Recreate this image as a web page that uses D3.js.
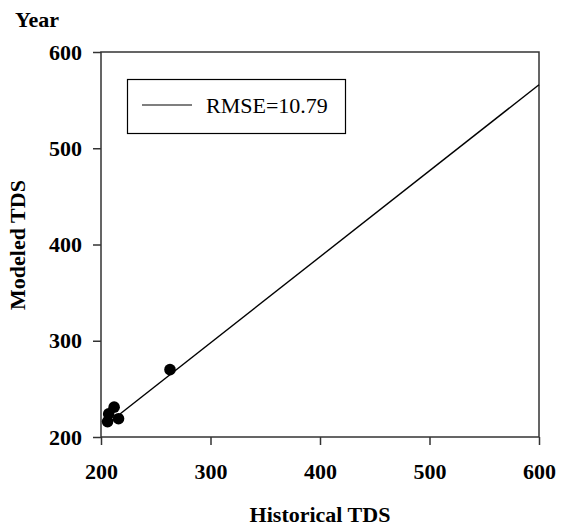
<!DOCTYPE html>
<html>
<head>
<meta charset="utf-8">
<script src="https://cdn.jsdelivr.net/npm/d3@7"></script>
<style>
  body { margin: 0; background: #fff; }
  svg { display: block; }
  text { font-family: "Liberation Serif", "Times New Roman", serif; }
</style>
</head>
<body>
<svg id="chart" width="566" height="530"></svg>
<script>
const width = 566;
const height = 530;
const margin = { top: 52, right: 27, bottom: 93, left: 101 };

// Data
const historical = [212, 207, 206, 216, 263];
const modeled = [231, 224, 216, 219, 270];
const fitX = [206, 600];
const fitY = [213.8, 566];
const xTicks = [200, 300, 400, 500, 600];
const yTicks = [200, 300, 400, 500, 600];
const legendLabel = "RMSE=10.79";

const svg = d3.select("#chart");

// Scales
const xScale = d3.scaleLinear()
  .domain([200, 600])
  .range([margin.left, width - margin.right]);

const yScale = d3.scaleLinear()
  .domain([200, 600])
  .range([height - margin.bottom, margin.top]);

// Axes
const xAxis = d3.axisBottom(xScale)
  .tickValues(xTicks)
  .tickSize(8)
  .tickSizeOuter(0)
  .tickPadding(18)
  .tickFormat(d3.format("d"));

const yAxis = d3.axisLeft(yScale)
  .tickValues(yTicks)
  .tickSize(8)
  .tickSizeOuter(0)
  .tickPadding(11)
  .tickFormat(d3.format("d"));

const gx = svg.append("g")
  .attr("transform", "translate(0," + (height - margin.bottom) + ")")
  .call(xAxis);

const gy = svg.append("g")
  .attr("transform", "translate(" + margin.left + ",0)")
  .call(yAxis);

[gx, gy].forEach((g) => {
  g.select(".domain").remove();
  g.selectAll(".tick line").attr("stroke", "#333").attr("stroke-width", 1.5);
  g.selectAll(".tick text")
    .attr("fill", "#000")
    .style("font-family", "'Liberation Serif', serif")
    .style("font-size", "22px")
    .style("font-weight", "bold");
});

// Plot frame
svg.append("rect")
  .attr("x", xScale(200))
  .attr("y", yScale(600))
  .attr("width", xScale(600) - xScale(200))
  .attr("height", yScale(200) - yScale(600))
  .attr("fill", "none")
  .attr("stroke", "#333")
  .attr("stroke-width", 1.5);

// Fitted line
const line = d3.line()
  .x((d) => xScale(d[0]))
  .y((d) => yScale(d[1]));

svg.append("path")
  .datum(d3.zip(fitX, fitY))
  .attr("d", line)
  .attr("fill", "none")
  .attr("stroke", "#000")
  .attr("stroke-width", 1.4);

// Points
svg.selectAll("circle.pt")
  .data(d3.zip(historical, modeled))
  .enter()
  .append("circle")
  .attr("class", "pt")
  .attr("cx", (d) => xScale(d[0]))
  .attr("cy", (d) => yScale(d[1]))
  .attr("r", 5.8)
  .attr("fill", "#000");

// Legend
const legend = svg.append("g");
legend.append("rect")
  .attr("x", 127.5)
  .attr("y", 79.5)
  .attr("width", 218)
  .attr("height", 54)
  .attr("fill", "#fff")
  .attr("stroke", "#000")
  .attr("stroke-width", 1.2);
legend.append("line")
  .attr("x1", 142)
  .attr("x2", 192)
  .attr("y1", 105)
  .attr("y2", 105)
  .attr("stroke", "#000")
  .attr("stroke-width", 1.2);
legend.append("text")
  .attr("x", 206)
  .attr("y", 113)
  .style("font-size", "22px")
  .text(legendLabel);

// Titles
svg.append("text")
  .attr("x", 15)
  .attr("y", 27)
  .style("font-size", "22px")
  .style("font-weight", "bold")
  .text("Year");

svg.append("text")
  .attr("x", 320)
  .attr("y", 522)
  .attr("text-anchor", "middle")
  .style("font-size", "22px")
  .style("font-weight", "bold")
  .text("Historical TDS");

svg.append("text")
  .attr("transform", "translate(25,245) rotate(-90)")
  .attr("text-anchor", "middle")
  .style("font-size", "22px")
  .style("font-weight", "bold")
  .text("Modeled TDS");
</script>
</body>
</html>
